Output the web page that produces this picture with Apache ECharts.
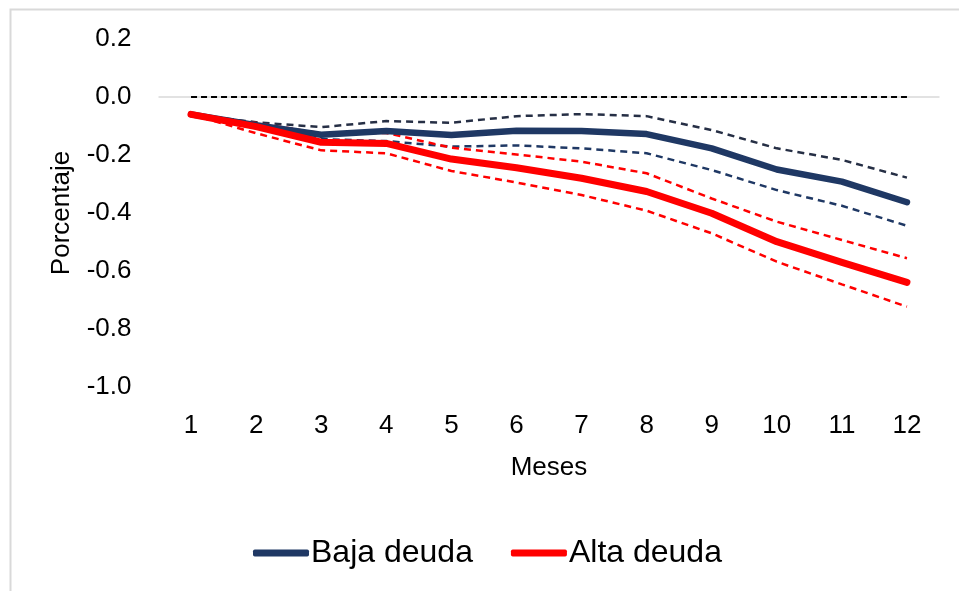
<!DOCTYPE html>
<html>
<head>
<meta charset="utf-8">
<script src="https://cdn.jsdelivr.net/npm/echarts@6/dist/echarts.min.js"></script>
<style>
html,body{margin:0;padding:0;background:#fff;}
#chart{width:959px;height:591px;}
</style>
</head>
<body>
<div id="chart"></div>
<script>
const months = ['1','2','3','4','5','6','7','8','9','10','11','12'];
const zeroLine = [0,0,0,0,0,0,0,0,0,0,0,0];
const bajaUpper = [-0.06,-0.087,-0.104,-0.083,-0.089,-0.066,-0.059,-0.066,-0.114,-0.177,-0.217,-0.278];
const bajaMid   = [-0.06,-0.097,-0.130,-0.117,-0.131,-0.116,-0.117,-0.128,-0.177,-0.250,-0.292,-0.363];
const bajaLower = [-0.06,-0.108,-0.145,-0.152,-0.171,-0.167,-0.177,-0.194,-0.252,-0.321,-0.375,-0.444];
const altaUpper = [-0.06,-0.090,-0.125,-0.124,-0.175,-0.198,-0.223,-0.263,-0.350,-0.430,-0.493,-0.556];
const altaMid   = [-0.06,-0.102,-0.156,-0.160,-0.214,-0.244,-0.280,-0.326,-0.401,-0.499,-0.570,-0.639];
const altaLower = [-0.06,-0.125,-0.184,-0.194,-0.255,-0.295,-0.338,-0.392,-0.470,-0.568,-0.646,-0.723];

const FONT = "'Liberation Sans', Arial, sans-serif";
const NAVY = '#1f3864';
const RED = '#ff0000';

function dashed(name, data, color) {
  return {
    name: name, type: 'line', data: data, symbol: 'none', silent: true,
    lineStyle: { color: color, width: 2.5, type: [7, 5], cap: 'butt' },
    z: 2
  };
}

const chart = echarts.init(document.getElementById('chart'), null, { renderer: 'canvas' });
chart.setOption({
  animation: false,
  backgroundColor: '#ffffff',
  graphic: [{
    type: 'rect', left: 8, top: 7, z: -10, silent: true,
    shape: { width: 1000, height: 1000 },
    style: { fill: 'none', stroke: '#d9d9d9', lineWidth: 2 }
  }],
  grid: { left: 158.5, right: 19.5, top: 39, bottom: 204, containLabel: false },
  legend: {
    data: ['Baja deuda', 'Alta deuda'],
    left: 248, top: 532,
    itemWidth: 56, itemHeight: 7, itemGap: 38,
    icon: 'roundRect',
    textStyle: { fontFamily: FONT, fontSize: 32, color: '#000', padding: [0, 0, 0, -3] }
  },
  xAxis: {
    type: 'category', data: months, boundaryGap: true,
    axisLine: { show: false }, axisTick: { show: false },
    axisLabel: { fontFamily: FONT, fontSize: 26, color: '#000', margin: 26 },
    name: 'Meses', nameLocation: 'middle', nameGap: 68,
    nameTextStyle: { fontFamily: FONT, fontSize: 26, color: '#000' }
  },
  yAxis: {
    type: 'value', min: -1.0, max: 0.2, interval: 0.2,
    axisLine: { show: false }, axisTick: { show: false }, splitLine: { show: false },
    axisLabel: {
      fontFamily: FONT, fontSize: 26, color: '#000', margin: 27,
      formatter: function (v) { return Math.abs(v) < 1e-9 ? '0.0' : v.toFixed(1); }
    },
    name: 'Porcentaje', nameLocation: 'middle', nameGap: 84,
    nameTextStyle: { fontFamily: FONT, fontSize: 26, color: '#000' }
  },
  series: [
    {
      name: 'cero', type: 'line', data: zeroLine, symbol: 'none', silent: true,
      lineStyle: { color: '#000', width: 2.2, type: [6, 4] }, z: 3,
      markLine: {
        silent: true, symbol: 'none', label: { show: false },
        lineStyle: { color: '#d9d9d9', width: 1.5, type: 'solid' },
        data: [{ yAxis: 0 }], z: 1
      }
    },
    dashed('Baja sup', bajaUpper, '#262f45'),
    {
      name: 'Baja deuda', type: 'line', data: bajaMid, symbol: 'none', silent: true,
      itemStyle: { color: NAVY },
      lineStyle: { color: NAVY, width: 6.5, cap: 'round', join: 'round' }, z: 3
    },
    dashed('Baja inf', bajaLower, NAVY),
    dashed('Alta sup', altaUpper, RED),
    {
      name: 'Alta deuda', type: 'line', data: altaMid, symbol: 'none', silent: true,
      itemStyle: { color: RED },
      lineStyle: { color: RED, width: 7, cap: 'round', join: 'round' }, z: 4
    },
    dashed('Alta inf', altaLower, RED)
  ]
});
</script>
</body>
</html>
